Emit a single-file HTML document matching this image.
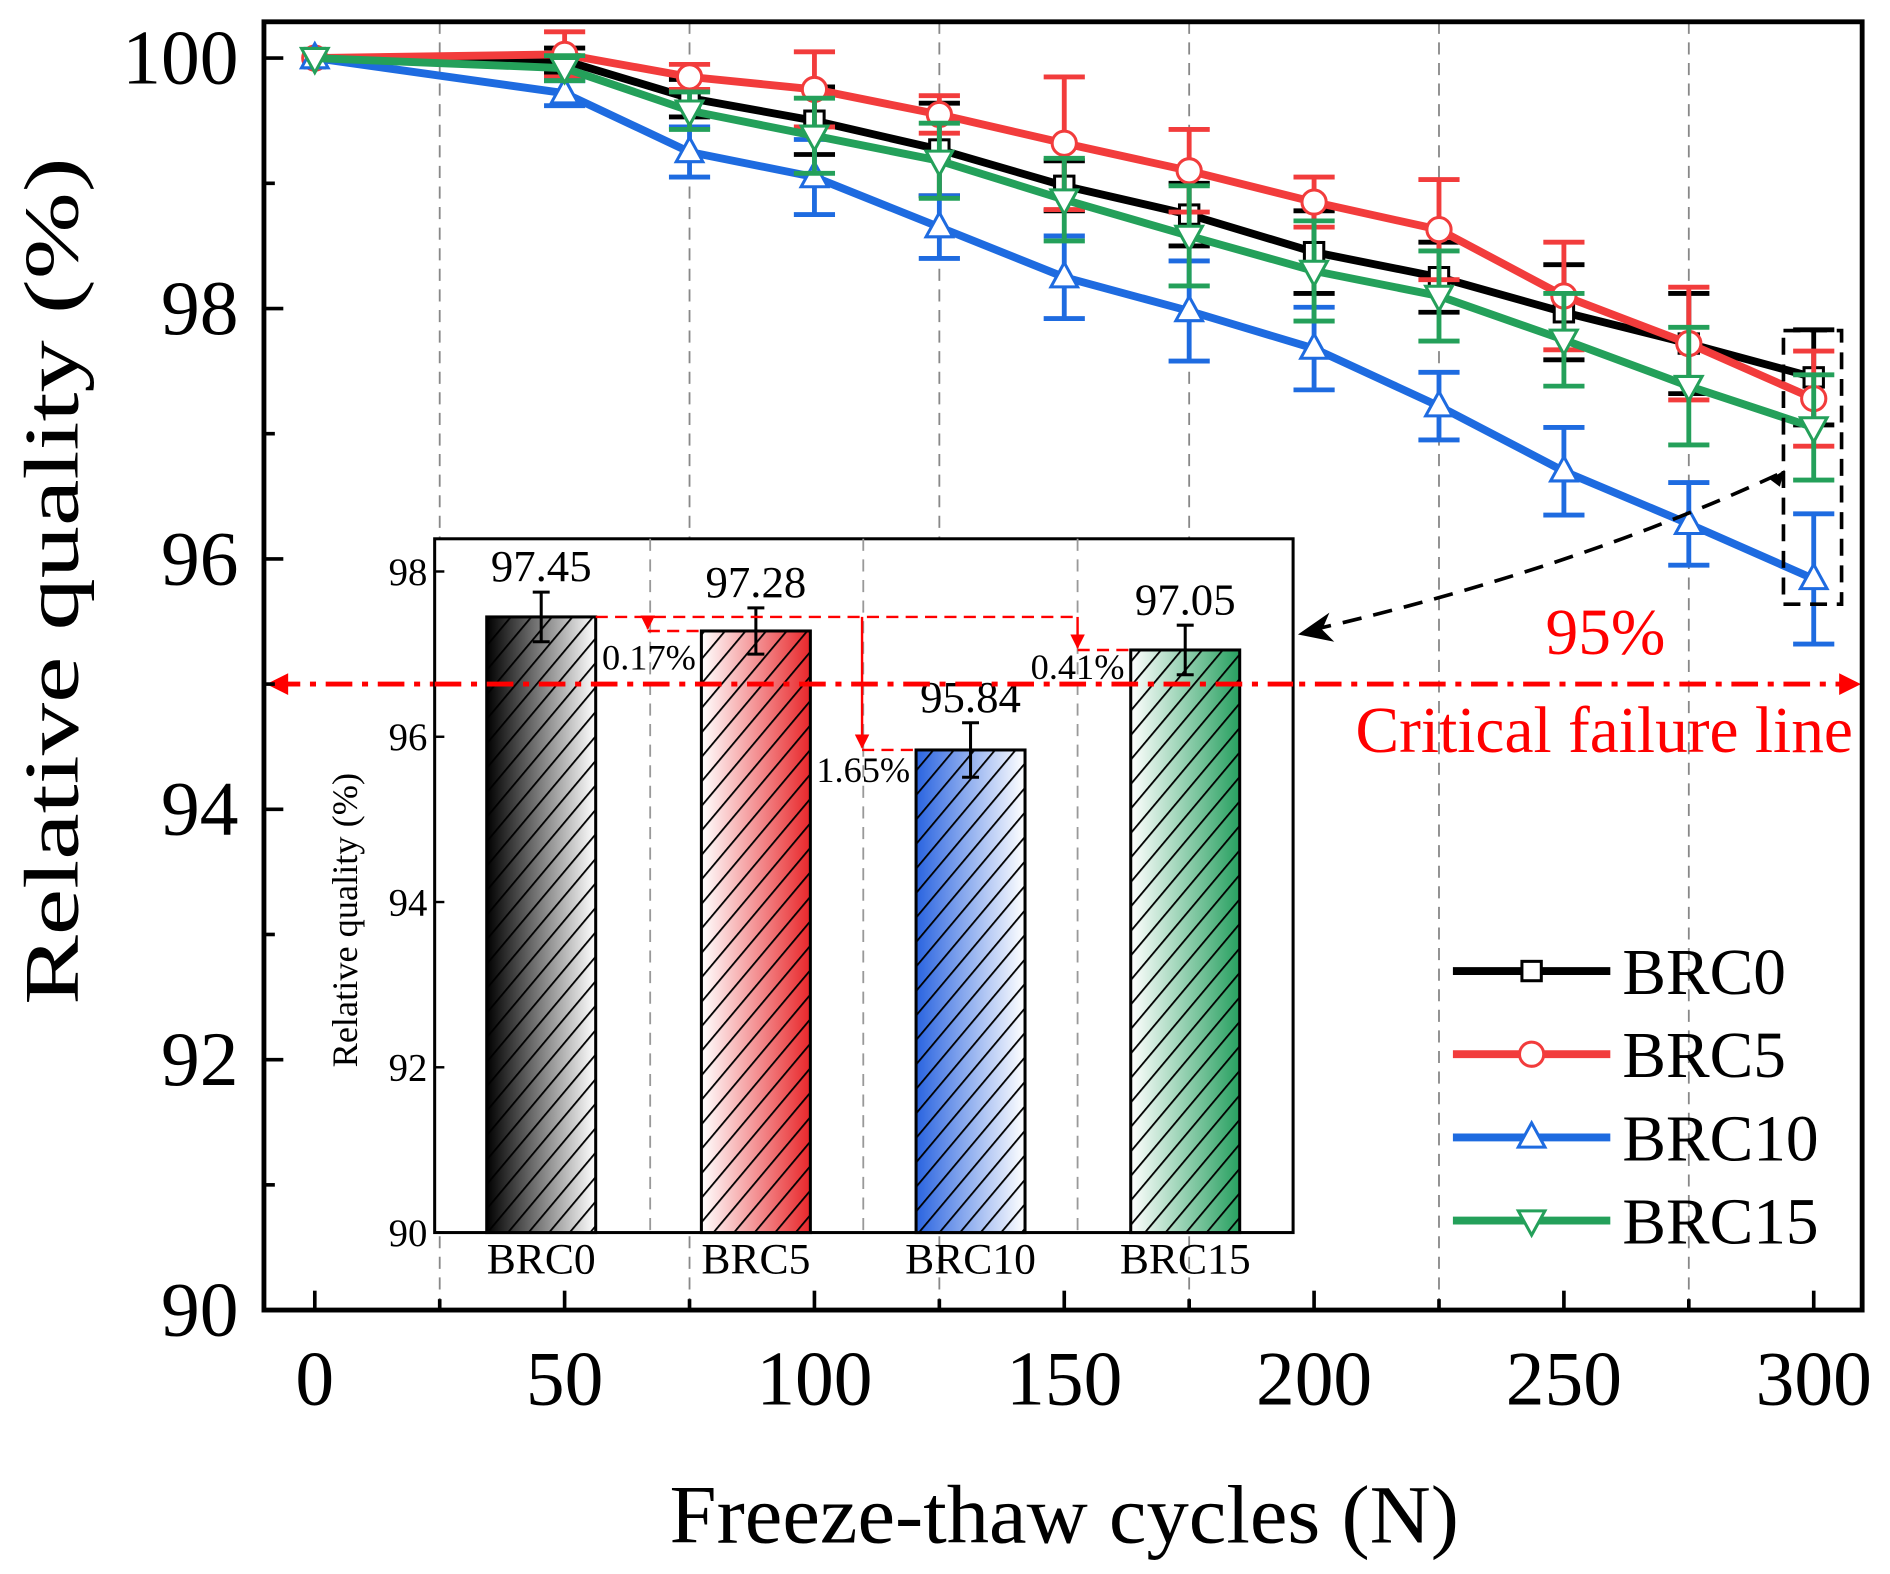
<!DOCTYPE html>
<html><head><meta charset="utf-8"><style>
html,body{margin:0;padding:0;background:#fff}
svg{display:block}
text{font-family:"Liberation Serif",serif}
</style></head><body>
<svg id="chart" width="1890" height="1574" viewBox="0 0 1561 1300" preserveAspectRatio="none" xmlns="http://www.w3.org/2000/svg">
<defs>
<pattern id="hatch" patternUnits="userSpaceOnUse" width="13" height="13" patternTransform="rotate(40)">
<line x1="0" y1="0" x2="0" y2="13" stroke="#000" stroke-width="3"/>
</pattern>
<linearGradient id="g0" x1="0" x2="1"><stop offset="0" stop-color="#000"/><stop offset="1" stop-color="#fff"/></linearGradient>
<linearGradient id="g1" x1="0" x2="1"><stop offset="0" stop-color="#fff"/><stop offset="1" stop-color="#e8262a"/></linearGradient>
<linearGradient id="g2" x1="0" x2="1"><stop offset="0" stop-color="#2a64e0"/><stop offset="1" stop-color="#fff"/></linearGradient>
<linearGradient id="g3" x1="0" x2="1"><stop offset="0" stop-color="#fff"/><stop offset="1" stop-color="#27a060"/></linearGradient>
<marker id="ar" viewBox="0 0 10 10" refX="9" refY="5" markerWidth="6" markerHeight="6" orient="auto"><path d="M0,0L10,5L0,10z" fill="#f00"/></marker>
</defs>
<g id="main"></g>
<g id="inset"></g>
<g id="over"></g>
</svg>
<script>
const cycles=[0,50,75,100,125,150,175,200,225,250,275,300];
const brc0=[100,99.98,99.68,99.5,99.27,98.98,98.75,98.45,98.25,97.97,97.72,97.45];
const brc0Err=[0,0.1,0.15,0.27,0.37,0.2,0.25,0.33,0.28,0.38,0.4,0.38];
const brc5=[100,100.03,99.85,99.75,99.55,99.32,99.1,98.85,98.63,98.1,97.72,97.28];
const brc5Err=[0,0.18,0.1,0.3,0.15,0.53,0.33,0.2,0.4,0.43,0.45,0.38];
const brc10=[100,99.72,99.25,99.05,98.65,98.25,97.98,97.68,97.22,96.7,96.28,95.84];
const brc10Err=[0,0.1,0.2,0.3,0.25,0.33,0.4,0.33,0.27,0.35,0.33,0.52];
const brc15=[100,99.92,99.58,99.38,99.18,98.87,98.58,98.3,98.1,97.75,97.38,97.05];
const brc15Err=[0,0.1,0.15,0.3,0.3,0.33,0.4,0.4,0.36,0.37,0.47,0.42];
const xTicks=[0,50,100,150,200,250,300];
const yTicks=[90,92,94,96,98,100];
const barCats=["BRC0","BRC5","BRC10","BRC15"];
const barVals=[97.45,97.28,95.84,97.05];
const barErr=[0.3,0.28,0.33,0.3];
const barLabels=["97.45","97.28","95.84","97.05"];
const insetTicks=[90,92,94,96,98];
const threshold=95;

const NS="http://www.w3.org/2000/svg";
function mk(tag,attrs,parent,txt){const e=document.createElementNS(NS,tag);for(const k in attrs)e.setAttribute(k,attrs[k]);if(txt!==undefined)e.textContent=txt;parent.appendChild(e);return e;}
const main=document.getElementById('main'),inset=document.getElementById('inset'),over=document.getElementById('over');
const X=v=>260+v*(1498-260)/300;
const Y=v=>1082-(v-90)*103.4;
const L=218,R=1538,T=18,B=1082;

for(let v=25;v<300;v+=50){
  const g=mk('line',{x1:X(v),x2:X(v),y1:T,y2:B,stroke:'#888','stroke-width':1.5,'stroke-dasharray':'10,7'},main);
  
  
}
const th=mk('line',{x1:226,x2:1530,y1:Y(threshold),y2:Y(threshold),stroke:'#f00','stroke-width':4,'stroke-dasharray':'22,8,5,8'},main);


mk('path',{d:`M220,${Y(threshold)} l18,-9 v18z`,fill:'#f00'},main);
mk('path',{d:`M1537,${Y(threshold)} l-18,-9 v18z`,fill:'#f00'},main);

const series=[
 {name:'BRC0',v:brc0,e:brc0Err,c:'#000',m:'square'},
 {name:'BRC5',v:brc5,e:brc5Err,c:'#f23c3c',m:'circle'},
 {name:'BRC10',v:brc10,e:brc10Err,c:'#1e6be0',m:'up'},
 {name:'BRC15',v:brc15,e:brc15Err,c:'#24a05a',m:'down'}];
function marker(type,x,y,c,parent){
  let el;
  if(type==='square')el=mk('rect',{x:x-8,y:y-8,width:16,height:16,fill:'#fff',stroke:c,'stroke-width':2.5},parent);
  else if(type==='circle')el=mk('circle',{cx:x,cy:y,r:10,fill:'#fff',stroke:c,'stroke-width':2.5},parent);
  else if(type==='up')el=mk('path',{d:`M${x},${y-12} L${x+11},${y+8} L${x-11},${y+8}Z`,fill:'#fff',stroke:c,'stroke-width':2.5},parent);
  else el=mk('path',{d:`M${x},${y+12} L${x+11},${y-8} L${x-11},${y-8}Z`,fill:'#fff',stroke:c,'stroke-width':2.5},parent);
  return el;
}
series.forEach(s=>{
  const g=mk('g',{},main);
  
  
  s.v.forEach((v,i)=>{
    if(!s.e[i])return;
    const x=X(cycles[i]);
    const eb=mk('path',{d:`M${x},${Y(v+s.e[i])}V${Y(v-s.e[i])}M${x-17},${Y(v+s.e[i])}h34M${x-17},${Y(v-s.e[i])}h34`,stroke:s.c,'stroke-width':4,fill:'none'},g);
    
    
  });
  const ln=mk('polyline',{points:s.v.map((v,i)=>X(cycles[i])+','+Y(v)).join(' '),fill:'none',stroke:s.c,'stroke-width':6.5,'stroke-linejoin':'round'},g);
  
  
  s.v.forEach((v,i)=>{const m=marker(s.m,X(cycles[i]),Y(v),s.c,g);
    
    });
});

const fr=mk('rect',{x:L,y:T,width:R-L,height:B-T,fill:'none',stroke:'#000','stroke-width':4},main);


xTicks.forEach(v=>{
  mk('line',{x1:X(v),x2:X(v),y1:B,y2:B-16,stroke:'#000','stroke-width':3},main);
  const t=mk('text',{x:X(v),y:1160,'text-anchor':'middle','font-size':64},main,String(v));
  
  
});
for(let v=25;v<300;v+=50)mk('line',{x1:X(v),x2:X(v),y1:B,y2:B-9,stroke:'#000','stroke-width':3},main);
yTicks.forEach(v=>{
  mk('line',{x1:L,x2:L+16,y1:Y(v),y2:Y(v),stroke:'#000','stroke-width':3},main);
  const t=mk('text',{x:197,y:Y(v)+21,'text-anchor':'end','font-size':64},main,String(v));
  
  
});
for(let v=91;v<100;v+=2)mk('line',{x1:L,x2:L+9,y1:Y(v),y2:Y(v),stroke:'#000','stroke-width':3},main);
const xt=mk('text',{x:879,y:1274,'text-anchor':'middle','font-size':68,textLength:652,lengthAdjust:'spacingAndGlyphs'},main,'Freeze-thaw cycles (N)');


const yt=mk('text',{x:0,y:0,'text-anchor':'middle','font-size':64,textLength:700,lengthAdjust:'spacingAndGlyphs',transform:'translate(64,480) rotate(-90)'},main,'Relative quality (%)');



const IL=359,IR=1068,IT=445,IB=1018;
const IY=v=>IB-(v-90)*68.25;
const IX=i=>447+i*177.3;
const bg=mk('rect',{x:IL,y:IT,width:IR-IL,height:IB-IT,fill:'#fff',stroke:'#000','stroke-width':2.5},inset);


[537,713,890].forEach(x=>mk('line',{x1:x,x2:x,y1:IT,y2:IB,stroke:'#999','stroke-width':1.5,'stroke-dasharray':'10,7'},inset));
insetTicks.forEach(v=>{
  mk('line',{x1:IL,x2:IL+8,y1:IY(v),y2:IY(v),stroke:'#000','stroke-width':2},inset);
  const t=mk('text',{x:IL-6,y:IY(v)+11,'text-anchor':'end','font-size':32},inset,String(v));
  
  
});
const iyt=mk('text',{x:0,y:0,'text-anchor':'middle','font-size':30,transform:'translate(295,760) rotate(-90)'},inset,'Relative quality (%)');


barVals.forEach((v,i)=>{
  const x=IX(i)-45,y=IY(v),h=IB-IY(v);
  const b=mk('rect',{x:x,y:y,width:90,height:h,fill:'url(#g'+i+')'},inset);
  
  
  mk('rect',{x:x,y:y,width:90,height:h,fill:'url(#hatch)',stroke:'#000','stroke-width':2.5},inset);
  mk('path',{d:`M${IX(i)},${IY(v+barErr[i])}V${IY(v-barErr[i])}M${IX(i)-7},${IY(v+barErr[i])}h14M${IX(i)-7},${IY(v-barErr[i])}h14`,stroke:'#000','stroke-width':2.5,fill:'none'},inset);
  const lb=mk('text',{x:IX(i),y:IY(v+barErr[i])-9,'text-anchor':'middle','font-size':37},inset,barLabels[i]);
  
  
  const cl=mk('text',{x:IX(i),y:1052,'text-anchor':'middle','font-size':36},inset,barCats[i]);
  
  
});
const ref=IY(barVals[0]);
mk('line',{x1:IX(0)+45,x2:IX(3)-90,y1:ref,y2:ref,stroke:'#f00','stroke-width':2,'stroke-dasharray':'10,6'},inset);
[[535,1],[712,2],[890,3]].forEach(([x,i])=>{
  mk('line',{x1:x,x2:x,y1:ref,y2:IY(barVals[i])-2,stroke:'#f00','stroke-width':2,'marker-end':'url(#ar)'},inset);
  mk('line',{x1:x,x2:IX(i)-45,y1:IY(barVals[i]),y2:IY(barVals[i]),stroke:'#f00','stroke-width':2,'stroke-dasharray':'10,6'},inset);
});
const pl=[["0.17%",536,553],["1.65%",713,646],["0.41%",890,561]];
pl.forEach(p=>{const t=mk('text',{x:p[1],y:p[2],'text-anchor':'middle','font-size':30},inset,p[0]);
  
  });
mk('line',{x1:IL,x2:IR,y1:Y(threshold),y2:Y(threshold),stroke:'#f00','stroke-width':4,'stroke-dasharray':'22,8,5,8'},inset);

const bx=mk('rect',{x:1473,y:273,width:48,height:226,fill:'none',stroke:'#000','stroke-width':3,'stroke-dasharray':'14,8'},over);


const ca=mk('path',{d:'M1468,392 Q1300,470 1085,520',fill:'none',stroke:'#000','stroke-width':3,'stroke-dasharray':'16,10'},over);


mk('path',{d:'M1072,524 l26,-18 l-6,14 l10,10z',fill:'#000'},over);
mk('path',{d:'M1474,388 l-4,14 l-8,-6z',fill:'#000'},over);
const p95=mk('text',{x:1326,y:540,'text-anchor':'middle','font-size':54,fill:'#f00'},over,'95%');


const cfl=mk('text',{x:1325,y:621,'text-anchor':'middle','font-size':54,fill:'#f00'},over,'Critical failure line');



series.forEach((s,i)=>{
  const y=802+i*68.7;
  const g=mk('g',{},over);
  
  
  mk('line',{x1:1200,x2:1330,y1:y,y2:y,stroke:s.c,'stroke-width':6.5},g);
  marker(s.m,1265,y,s.c,g);
  mk('text',{x:1340,y:y+19,'font-size':54},g,s.name);
});
</script>
</body></html>
